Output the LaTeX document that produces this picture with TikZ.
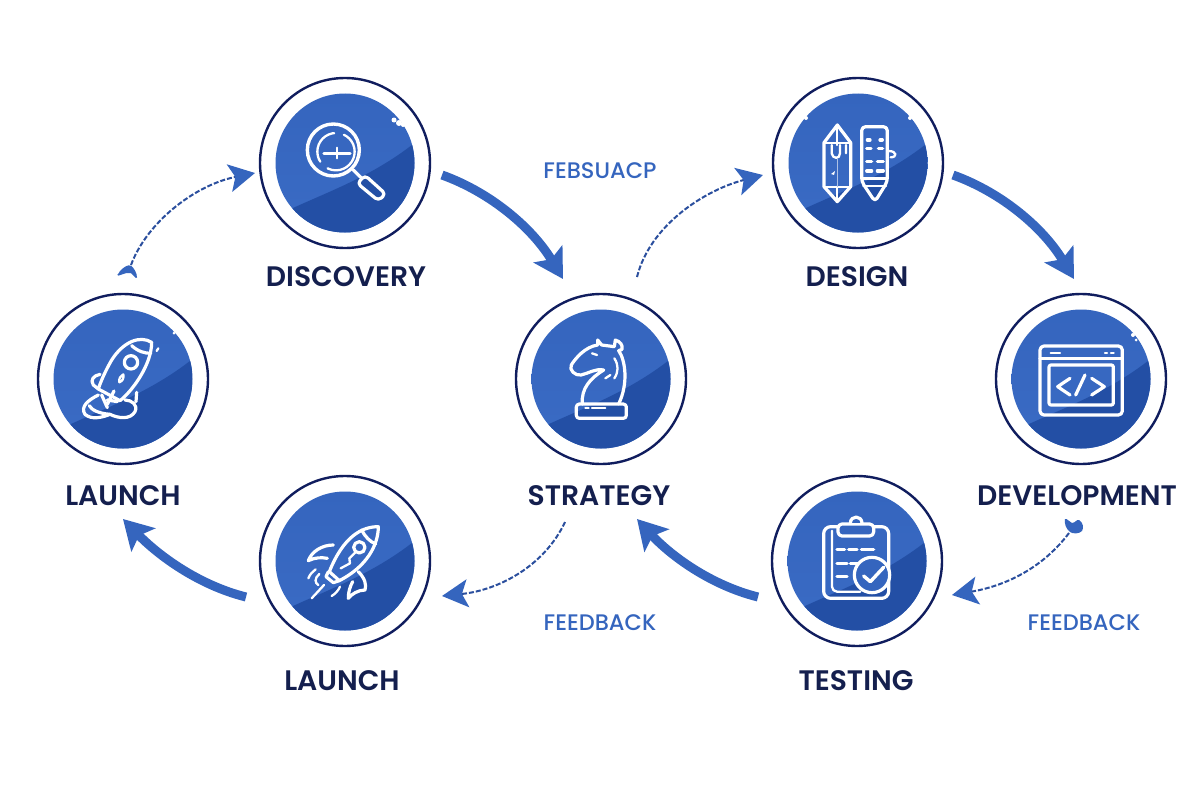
\documentclass[tikz,border=0pt]{standalone}
\usepackage{fontspec}
\setmainfont{Poppins}
\newfontfamily\titlefont{Poppins SemiBold}
\newfontfamily\fbfont{Poppins Medium}
\usetikzlibrary{arrows.meta}
\definecolor{navy}{HTML}{141F4E}
\definecolor{ringc}{HTML}{101D5E}
\definecolor{blueA}{HTML}{3565BE}
\definecolor{blueB}{HTML}{3A6BC4}
\definecolor{blueC}{HTML}{234FA5}
\definecolor{dashc}{HTML}{2B4F9E}
\tikzset{
  x=1pt,y=-1pt,
  ring/.style={circle,draw=ringc,line width=2.4pt,fill=white,minimum size=170pt,inner sep=0pt},
  title/.style={text=navy,font=\fontsize{28.2}{28.2}\titlefont,inner sep=0pt,anchor=center},
  fb/.style={text=blueA,font=\fontsize{22.5}{22.5}\fbfont,inner sep=0pt,anchor=center},
  flow/.style={draw=blueA,line width=9pt,-{Stealth[length=29pt,width=33pt,inset=6pt]}},
  loopback/.style={draw=dashc,line width=2pt,line cap=butt,dash pattern=on 5pt off 2pt,-{Stealth[length=26pt,width=28pt,inset=6pt,color=blueA]}},
  icon/.style={draw=white,line width=3.2pt,line cap=round,line join=round},
  thinicon/.style={draw=white,line width=2.3pt,line cap=round,line join=round},
  zoomed/.style={shift={(#1)},x=0.33333pt,y=-0.33333pt},
}
\newcommand{\badge}[3]{%
  \node[ring] (#1) at (#2,#3) {};
  \begin{scope}
    \clip (#2,#3) circle (69.5);
    \shade[left color=blueA,right color=blueB,shading angle=0] (#2-71,#3-71) rectangle (#2+71,#3+71);
    \fill[blueC] (#2-52,#3+45) .. controls (#2-15,#3+28) and (#2+30,#3+12) .. (#2+72,#3-22) -- (#2+80,#3+80) -- (#2-80,#3+80) -- cycle;
  \end{scope}}
\begin{document}
\begin{tikzpicture}
\useasboundingbox[fill=white] (0,0) rectangle (1200,800);
\badge{discovery}{345}{163}
\badge{design}{858}{163}
\badge{launchleft}{123}{379}
\badge{strategy}{601}{379}
\badge{development}{1081}{379}
\badge{launchbottom}{345}{561}
\badge{testing}{857}{561}

% labels
\node[title] (tdiscovery) at (346,277) {DISCOVERY};
\node[title] (tdesign) at (857,277) {DESIGN};
\node[title] (tlaunchleft) at (123,496) {LAUNCH};
\node[title] (tstrategy) at (599,496) {STRATEGY};
\node[title] (tdevelopment) at (1077,496) {DEVELOPMENT};
\node[title] (tlaunchbottom) at (342,681) {LAUNCH};
\node[title] (ttesting) at (856,681) {TESTING};
\node[fb] (fb1) at (600,171) {FEBSUACP};
\node[fb] (fb2) at (600,623) {FEEDBACK};
\node[fb] (fb3) at (1084,623) {FEEDBACK};

% thick flow arrows
\draw[flow] ([shift={(97,12)}]discovery.center) .. controls (492,193) and (533,229) .. ([shift={(-38,-100)}]strategy.center);
\draw[flow] ([shift={(95,12)}]design.center) .. controls (1003,193) and (1044,229) .. ([shift={(-7,-100)}]development.center);
\draw[flow] ([shift={(-99,36)}]testing.center) .. controls (710,585) and (670,555) .. ([shift={(36,140)}]strategy.center);
\draw[flow] ([shift={(-99,36)}]launchbottom.center) .. controls (198,585) and (158,555) .. ([shift={(0,140)}]launchleft.center);

% dashed loops
\draw[loopback] ([shift={(36,-102)}]strategy.center) .. controls (650,225) and (705,190) .. ([shift={(-95,12)}]design.center);
\draw[loopback] ([shift={(8,-114)}]launchleft.center) .. controls (147,222) and (195,185) .. ([shift={(-90,10)}]discovery.center);
\draw[loopback] ([shift={(-12,154)}]development.center) .. controls (1045,565) and (1010,585) .. ([shift={(95,34)}]testing.center);
\draw[loopback] ([shift={(-36,143)}]strategy.center) .. controls (545,565) and (500,590) .. ([shift={(97,35)}]launchbottom.center);

% stray heads
\fill[blueA,rounded corners=1.5pt] (117,276) .. controls (120,270) and (125,266) .. (130,265) .. controls (134,268) and (137,273) .. (137,279) .. controls (134,276) and (131,273) .. (129,273) .. controls (125,273) and (121,275) .. cycle;
\fill[blueA] (1065,519) .. controls (1067,518) and (1069,522) .. (1072,523) .. controls (1075,523) and (1077,519) .. (1079,520) .. controls (1083,522) and (1084,528) .. (1082,531) .. controls (1079,534) and (1073,534) .. (1070,532) .. controls (1066,529) and (1064,523) .. cycle;

% rim flecks
\fill[white] (394,120) circle (2.5) (399,123) circle (3) (403,125) circle (2);
\fill[white] (806,118) circle (2) (910,118) circle (2);
\fill[white] (174,333) circle (1.5);
\fill[white] (1133,335) circle (2) (1136,340) circle (1.5);

% magnifier
\begin{scope}[zoomed={250,70}]
  \draw[icon,line width=3.4pt] (250,240) circle (78);
  \draw[thinicon,dash pattern=on 38pt off 10pt] (258,245) circle (56);
  \draw[icon] (222,250) -- (300,250);
  \draw[thinicon] (260,233) -- (260,265);
  \draw[icon] (310,300) -- (332,322);
  \draw[icon,rounded corners=4pt] (322,340) -- (345,316) -- (407,372) -- (385,392) -- cycle;
\end{scope}

% design tools
\begin{scope}[zoomed={760,70}]
  \draw[icon] (232,165) -- (272,218) -- (272,350) -- (232,395) -- (192,350) -- (192,218) -- cycle;
  \draw[thinicon] (192,218) -- (272,218) (192,350) -- (272,350) (232,165) -- (232,225) (232,350) -- (232,395);
  \draw[thinicon] (215,225) -- (215,250) .. controls (218,268) and (240,268) .. (240,250) -- (240,225) (258,225) -- (258,250);
  \draw[draw=white!60!blueA,line width=1.4pt] (232,265) -- (232,350);
  \fill[white] (213,312) -- (225,303) -- (222,315) -- cycle;
  \draw[icon,rounded corners=4pt] (305,170) -- (382,170) -- (382,335) -- (345,395) -- (305,335) -- cycle;
  \draw[icon] (305,325) -- (382,325);
  \draw[thinicon] (310,347) -- (378,347);
  \draw[icon] (322,210) -- (330,210) (360,210) -- (367,210) (320,235) -- (333,235) (355,235) -- (368,235)
     (320,275) -- (335,275) (352,275) -- (370,275) (320,303) -- (335,303) (352,303) -- (370,303);
  \draw[thinicon] (385,243) .. controls (412,243) and (412,262) .. (392,262);
\end{scope}

% crowded rocket
\begin{scope}[zoomed={30,285}]
  \draw[icon] (365,172) .. controls (330,150) and (280,170) .. (245,225) .. controls (225,260) and (212,290) .. (205,312) -- (270,347) .. controls (305,320) and (365,240) .. (365,172) -- cycle;
  \draw[icon] (305,182) .. controls (325,200) and (345,205) .. (362,205);
  \draw[icon] (303,232) circle (20);
  \draw[thinicon] (268,292) .. controls (266,280) and (272,272) .. (280,268) .. controls (282,280) and (278,288) .. (268,292);
  \draw[icon] (210,268) .. controls (190,272) and (180,285) .. (190,300) -- (205,312);
  \draw[icon] (205,330) .. controls (175,345) and (150,365) .. (165,388) .. controls (185,405) and (215,398) .. (240,388);
  \draw[icon] (178,362) .. controls (185,375) and (205,385) .. (240,388) .. controls (265,400) and (300,405) .. (315,380) .. controls (325,360) and (305,345) .. (285,345);
  \draw[icon] (320,322) -- (318,350);
  \draw[icon] (252,318) -- (232,358) (215,330) -- (232,368) (232,345) -- (262,350);
  \draw[thinicon] (385,190) -- (380,198);
\end{scope}

% knight
\begin{scope}[zoomed={507,290}]
  \draw[icon,rounded corners=3pt] (208,342) rectangle (358,385);
  \draw[thinicon] (235,355) -- (245,355) (255,355) -- (295,355);
  \draw[icon] (226,342) .. controls (222,295) and (250,265) .. (290,240) .. controls (265,235) and (245,250) .. (222,255) .. controls (205,258) and (185,240) .. (193,225) .. controls (205,205) and (235,170) .. (272,165) -- (272,150) -- (284,165) -- (322,170) -- (325,150) .. controls (340,155) and (348,165) .. (345,178) -- (335,182) .. controls (355,210) and (365,280) .. (335,342);
  \draw[thinicon] (322,205) .. controls (335,225) and (335,245) .. (322,265) (295,265) -- (310,255) (255,190) -- (270,195);
\end{scope}

% code window
\begin{scope}[zoomed={985,290}]
  \draw[icon,rounded corners=4pt] (165,168) rectangle (412,375);
  \draw[icon] (165,206) -- (412,206);
  \draw[icon,rounded corners=2pt] (192,225) rectangle (385,345);
  \draw[icon] (255,265) -- (218,290) -- (255,315) (300,255) -- (272,315) (320,265) -- (358,290) -- (320,315);
  \draw[thinicon] (197,189) -- (225,189) (360,189) -- (366,189) (378,189) -- (386,189);
\end{scope}

% launching rocket
\begin{scope}[zoomed={250,470}]
  \draw[icon] (385,170) .. controls (335,170) and (280,200) .. (238,305) -- (268,332) .. controls (350,290) and (385,225) .. (385,170) -- cycle;
  \draw[icon] (335,180) .. controls (345,200) and (360,215) .. (377,222);
  \draw[icon] (328,232) circle (17);
  \draw[thinicon] (315,248) -- (298,265) -- (300,280) -- (272,295);
  \draw[icon] (250,225) .. controls (215,225) and (185,245) .. (175,272) .. controls (195,262) and (215,262) .. (232,265);
  \draw[icon] (325,305) .. controls (345,325) and (350,345) .. (345,360) .. controls (325,360) and (305,372) .. (295,385) .. controls (295,365) and (300,350) .. (308,335);
  \draw[icon] (235,305) -- (228,320) -- (250,338) -- (268,332);
  \draw[thinicon] (222,345) -- (185,385) (175,325) .. controls (180,312) and (188,305) .. (197,298) (205,345) .. controls (195,340) and (192,325) .. (208,312) (245,378) .. controls (255,372) and (265,362) .. (270,350);
\end{scope}

% clipboard
\begin{scope}[zoomed={762,470}]
  \draw[icon,rounded corners=7pt] (295,385) -- (185,385) -- (185,170) -- (380,170) -- (380,385) -- (295,385);
  \draw[thinicon,rounded corners=5pt] (295,365) -- (210,365) -- (210,182);
  \fill[blueA] (228,160) rectangle (335,198);
  \draw[icon,rounded corners=4pt] (228,162) rectangle (335,198);
  \draw[icon,fill=blueA] (265,160) .. controls (265,135) and (300,135) .. (300,160);
  \draw[icon] (225,238) -- (248,238) (260,238) -- (285,238) (298,238) -- (335,238) (225,280) -- (255,280) (265,280) -- (288,280) (225,320) -- (255,320);
  \draw[icon,fill=blueA] (330,315) circle (53);
  \draw[icon,line width=3.4pt] (305,318) -- (325,335) -- (365,292);
\end{scope}
\end{tikzpicture}
\end{document}
